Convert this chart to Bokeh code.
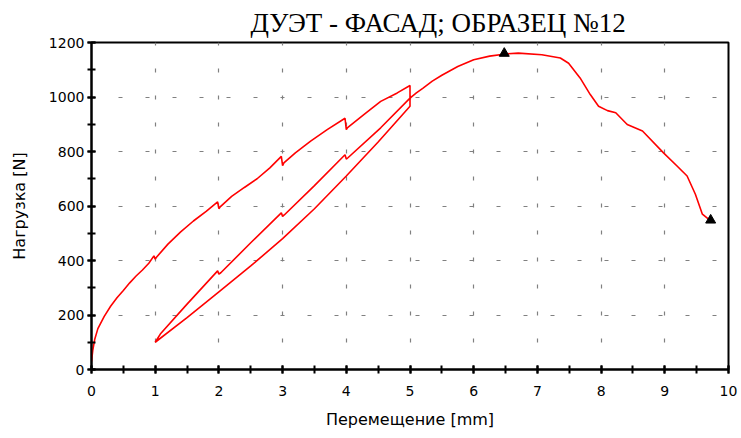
from bokeh.plotting import figure
from bokeh.embed import file_html
from bokeh.resources import INLINE
from bokeh.models import SingleIntervalTicker, Range1d

# Loading branch with relaxation steps at each mm
load_x = [0.0, 0.02, 0.05, 0.1, 0.2, 0.3, 0.4, 0.5, 0.6, 0.7, 0.8, 0.9, 0.98, 1.0, 1.02,
          1.2, 1.4, 1.6, 1.8, 1.98, 2.0, 2.02, 2.2, 2.4, 2.6, 2.8, 2.98, 3.0, 3.02,
          3.2, 3.44, 3.7, 3.98, 4.0, 4.02, 4.3, 4.54, 4.8, 5.0, 5.0]
load_n = [30, 70, 110, 150, 195, 232, 263, 290, 318, 343, 365, 390, 417, 405, 412,
          460, 505, 545, 580, 615, 590, 597, 635, 668, 700, 740, 782, 748, 758,
          795, 838, 880, 922, 880, 888, 940, 984, 1015, 1042, 966]
# Unloading branch
unload_x = [4.5, 4.0, 3.5, 3.0, 2.5, 2.0, 1.5, 1.0]
unload_n = [835, 710, 590, 480, 380, 285, 190, 100]
# Reloading branch
reload_x = [1.08, 1.5, 1.98, 2.0, 2.03, 2.5, 2.98, 3.0, 3.03, 3.5, 3.98, 4.0, 4.03, 4.54, 5.0]
reload_n = [130, 240, 362, 350, 355, 465, 575, 562, 568, 675, 788, 772, 778, 887, 996]
# Post-cycle loading to failure
post_x = [5.1, 5.2, 5.35, 5.5, 5.75, 6.0, 6.25, 6.5, 6.7, 7.07, 7.36, 7.49, 7.67, 7.83,
          7.96, 8.1, 8.23, 8.41, 8.65, 8.98, 9.2, 9.35, 9.48, 9.59, 9.72]
post_n = [1015, 1032, 1058, 1080, 1112, 1137, 1150, 1158, 1161, 1155, 1143, 1124, 1070, 1009,
          966, 950, 942, 899, 875, 795, 745, 710, 643, 570, 545]
# Marked points (max and final)
mark_x = [6.48, 9.72]
mark_n = [1160, 548]

title = "ДУЭТ - ФАСАД; ОБРАЗЕЦ №12"
x_label = "Перемещение [mm]"
y_label = "Нагрузка [N]"

xs = load_x + unload_x + reload_x + post_x
ys = load_n + unload_n + reload_n + post_n

p = figure(width=741, height=438, output_backend="svg", toolbar_location=None,
           x_range=Range1d(0, 10), y_range=Range1d(0, 1200),
           min_border_left=91, min_border_right=13, min_border_top=41, min_border_bottom=69)

p.title.text = title
p.title.text_font = "Liberation Serif"
p.title.text_font_size = "27px"
p.title.text_font_style = "normal"
p.title.text_color = "black"
p.title.align = "left"
p.title.offset = 159
p.title.standoff = 10

p.line(xs, ys, line_color="#ff0000", line_width=1.6)
p.scatter(mark_x, mark_n, marker="triangle", size=10, fill_color="black", line_color="black")

p.xaxis.ticker = SingleIntervalTicker(interval=1, num_minor_ticks=2)
p.yaxis.ticker = SingleIntervalTicker(interval=200, num_minor_ticks=2)

for ax in (p.xaxis, p.yaxis):
    ax.axis_line_color = "black"
    ax.axis_line_width = 2
    ax.major_tick_line_color = "black"
    ax.major_tick_line_width = 2
    ax.minor_tick_line_color = "black"
    ax.minor_tick_line_width = 2
    ax.major_tick_in = 4
    ax.major_tick_out = 4
    ax.minor_tick_in = 4
    ax.minor_tick_out = 4
    ax.major_label_text_font = "DejaVu Sans"
    ax.major_label_text_font_size = "14px"
    ax.major_label_text_color = "black"
    ax.axis_label_text_font = "DejaVu Sans"
    ax.axis_label_text_font_size = "16px"
    ax.axis_label_text_font_style = "normal"
    ax.axis_label_text_color = "black"

p.xaxis.axis_label = x_label
p.yaxis.axis_label = y_label
p.xaxis.major_label_standoff = 12
p.yaxis.major_label_standoff = 3
p.yaxis.axis_label_standoff = 17
p.xaxis.axis_label_standoff = 11

for g in (p.xgrid, p.ygrid):
    g.grid_line_color = "#808080"
    g.grid_line_width = 1.2
    g.grid_line_dash = "4 23"

p.outline_line_color = "black"
p.outline_line_width = 2
p.background_fill_color = "white"
p.border_fill_color = "white"

open("out.html", "w").write(file_html(p, INLINE))
